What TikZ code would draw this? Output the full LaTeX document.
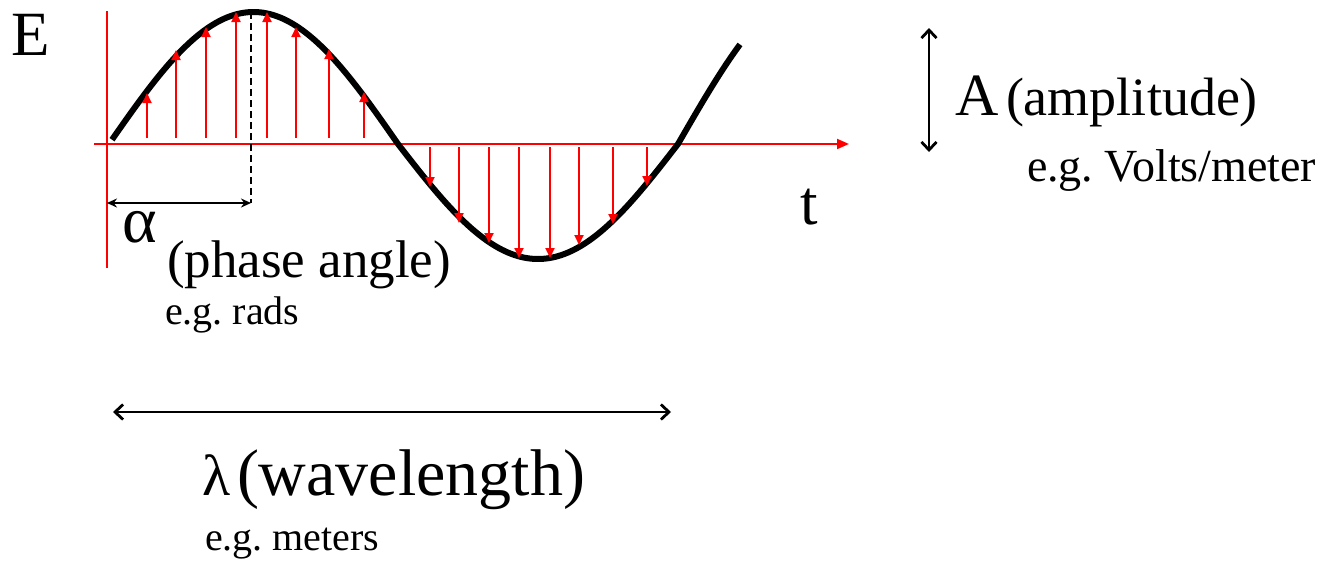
\documentclass[tikz,border=0pt]{standalone}
\usepackage{fontspec}
\setmainfont{Liberation Serif}
\usetikzlibrary{arrows.meta}
\newcommand\setfs[1]{\fontsize{#1}{#1}\selectfont}
\frenchspacing
\begin{document}
\begin{tikzpicture}[x=1pt,y=-1pt,
  lbl/.style={anchor=base west,inner sep=0pt,outer sep=0pt},
  axis/.style={red,line width=2pt},
  redarr/.style={red,line width=2pt,-{Triangle[length=10pt,width=9pt]}},
  curve/.style={black,line width=6pt,line join=round},
  dimarr/.style={black,line width=2pt,{Stealth[length=10pt,width=9pt]}-{Stealth[length=10pt,width=9pt]}},
  bigarr/.style={black,line width=2.8pt,{Straight Barb[length=8pt,width=15pt]}-{Straight Barb[length=8pt,width=15pt]}}]
\useasboundingbox (0,0) rectangle (1327,570);
% axes
\coordinate (vtop) at (107,11);
\coordinate (vbot) at (107,268);
\coordinate (hl) at (94,144);
\coordinate (hr) at (849,144);
\draw[axis] (vtop) -- (vbot);
\draw[axis,-{Triangle[length=12pt,width=10pt]}] (hl) -- (hr);
% wave
\draw[curve] plot[domain=112:398,samples=90] (\x,{144-132*sin((\x-109)/289*180)})
  -- plot[domain=398:678,samples=90] (\x,{144+115*sin((\x-398)/280*180)})
  -- plot[domain=678:740,samples=30] (\x,{144-160*sin((\x-678)/290*180)});
% field vectors
\foreach \x/\y in {147/93,176/50,206/27,236/12,267/12,296/27,329/49,364/92}
  \draw[redarr] (\x,138) -- (\x,\y);
\foreach \x/\y in {430/187,459/223,489/243,519/258,550/258,579/245,613/224,647/186}
  \draw[redarr] (\x,147) -- (\x,\y);
% phase
\coordinate (dtop) at (251,12);
\coordinate (dbot) at (251,203);
\draw[black,line width=2pt,dash pattern=on 7pt off 4pt] (dtop) -- (dbot);
\coordinate (al) at (107,203);
\draw[dimarr] (al) -- (dbot);
% amplitude arrow
\coordinate (at) at (929,28);
\coordinate (ab) at (929,152);
\draw[bigarr] (at) -- (ab);
% wavelength arrow
\coordinate (wl) at (113,412);
\coordinate (wr) at (671,412);
\draw[bigarr] (wl) -- (wr);
% labels
\node[lbl,font=\setfs{63}] (E) at (12,55) {E};
\node[lbl,font=\setfs{63}] (t) at (800,224) {t};
\node[lbl,font=\setfs{66}] (alpha) at (122,242) {α};
\node[lbl,font=\setfs{53}] (phase) at (167,277) {(phase angle)};
\node[lbl,font=\setfs{40}] (rads) at (165,324) {e.g. rads};
\node[lbl,font=\setfs{60}] (A) at (955,115) {A};
\node[lbl,font=\setfs{54}] (amp) at (1006,115) {(amplitude)};
\node[lbl,font=\setfs{46}] (volts) at (1027,181) {e.g. Volts/meter};
\node[lbl,font=\setfs{58}] (lam) at (202,495) {λ};
\node[lbl,font=\setfs{66}] (wave) at (237,495) {(wavelength)};
\node[lbl,font=\setfs{40}] (met) at (205,550) {e.g. meters};
\end{tikzpicture}
\end{document}
